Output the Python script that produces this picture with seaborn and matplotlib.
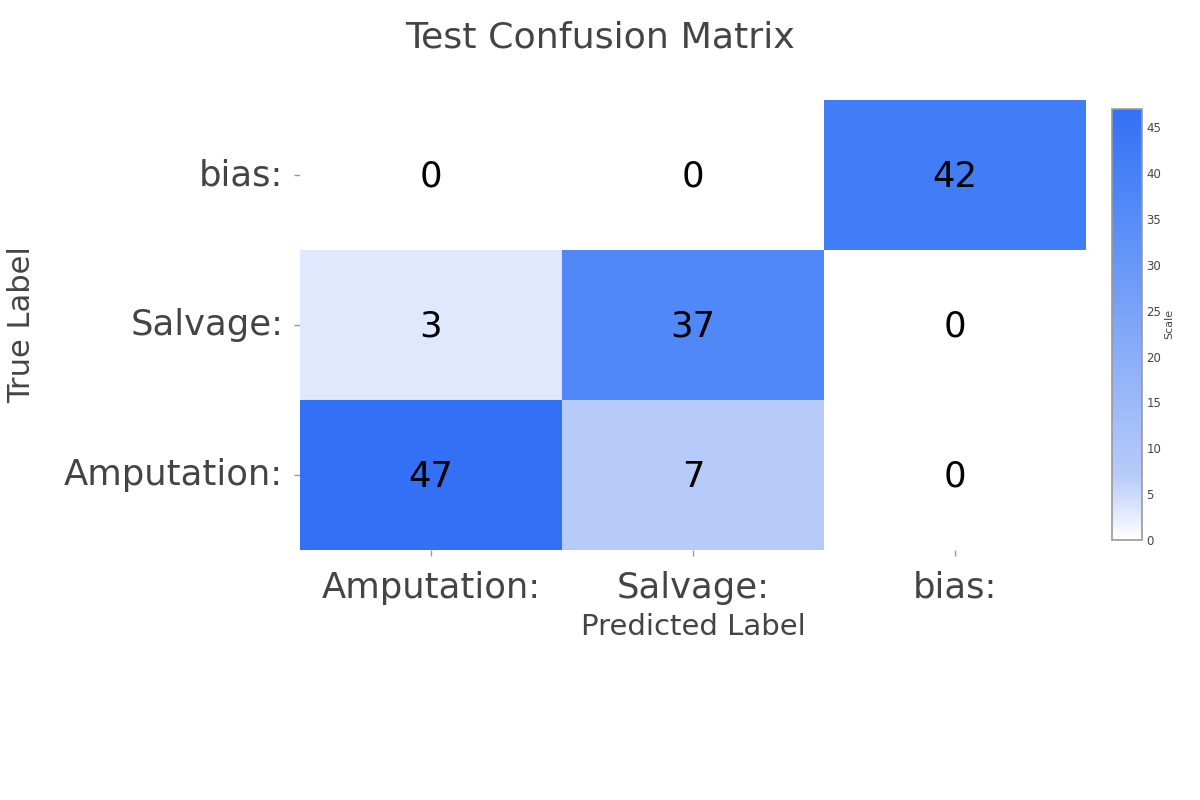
import numpy as np
import pandas as pd
import matplotlib
matplotlib.use("Agg")
import matplotlib.pyplot as plt
import seaborn as sns
from matplotlib.colors import LinearSegmentedColormap

labels = ["Amputation:", "Salvage:", "bias:"]
true_amputation = [47, 7, 0]
true_salvage = [3, 37, 0]
true_bias = [0, 0, 42]
zmax = 47

sns.set_theme(style="white")
plt.rcParams['font.family'] = ['DejaVu Sans']

df = pd.DataFrame([true_bias, true_salvage, true_amputation],
                  index=labels[::-1], columns=labels)

stops = [(0.0, (1.0, 1.0, 1.0)),
         (3 / 47, (222/255, 232/255, 252/255)),
         (7 / 47, (183/255, 203/255, 250/255)),
         (37 / 47, (80/255, 136/255, 247/255)),
         (42 / 47, (65/255, 125/255, 247/255)),
         (1.0, (51/255, 112/255, 245/255))]
cmap = LinearSegmentedColormap.from_list("cm", stops)

fig = plt.figure(figsize=(12, 8), dpi=100)
ax = fig.add_axes([0.25, 0.3125, 0.655, 0.5625])
cax = fig.add_axes([0.9267, 0.325, 0.025, 0.539])

sns.heatmap(df, ax=ax, cbar_ax=cax, cmap=cmap, vmin=0, vmax=zmax,
            annot=True, fmt="d",
            annot_kws={"fontsize": 25.5, "color": "black"})
for t in ax.texts:
    x, y = t.get_position()
    t.set_position((x, y + 0.013))

txt = '#444444'
fig.text(0.5, 1 - 37 / 800, "Test Confusion Matrix", fontsize=26.2,
         color=txt, ha='center', va='center')
ax.set_xlabel("Predicted Label", fontsize=21, color=txt)
ax.set_ylabel("True Label", fontsize=22, color=txt)
ax.xaxis.set_label_coords(0.5, (550 - 627) / 450)
ax.xaxis.label.set_va('center')
ax.yaxis.set_label_coords((22 - 300) / 786, 0.5)
ax.yaxis.label.set_va('center')

ax.tick_params(axis='both', length=4, color='#999999', width=1,
               labelsize=25.5, labelcolor=txt, bottom=True, left=True)
ax.tick_params(axis='x', pad=11)
ax.tick_params(axis='y', pad=8)
plt.setp(ax.get_yticklabels(), rotation=0, va='center')
plt.setp(ax.get_xticklabels(), rotation=0)
for lab in ax.get_yticklabels():
    lab.set_y(lab.get_position()[1])

cb = ax.collections[0].colorbar
cb.set_ticks([0, 5, 10, 15, 20, 25, 30, 35, 40, 45])
cb.ax.tick_params(length=0, labelsize=8.5, labelcolor=txt, pad=3)
cb.outline.set_visible(True)
cb.outline.set_edgecolor('#999999')
cb.outline.set_linewidth(1.2)
cb.set_label("Scale", fontsize=8, color=txt, labelpad=2)

fig.savefig("out.png", dpi=100)
